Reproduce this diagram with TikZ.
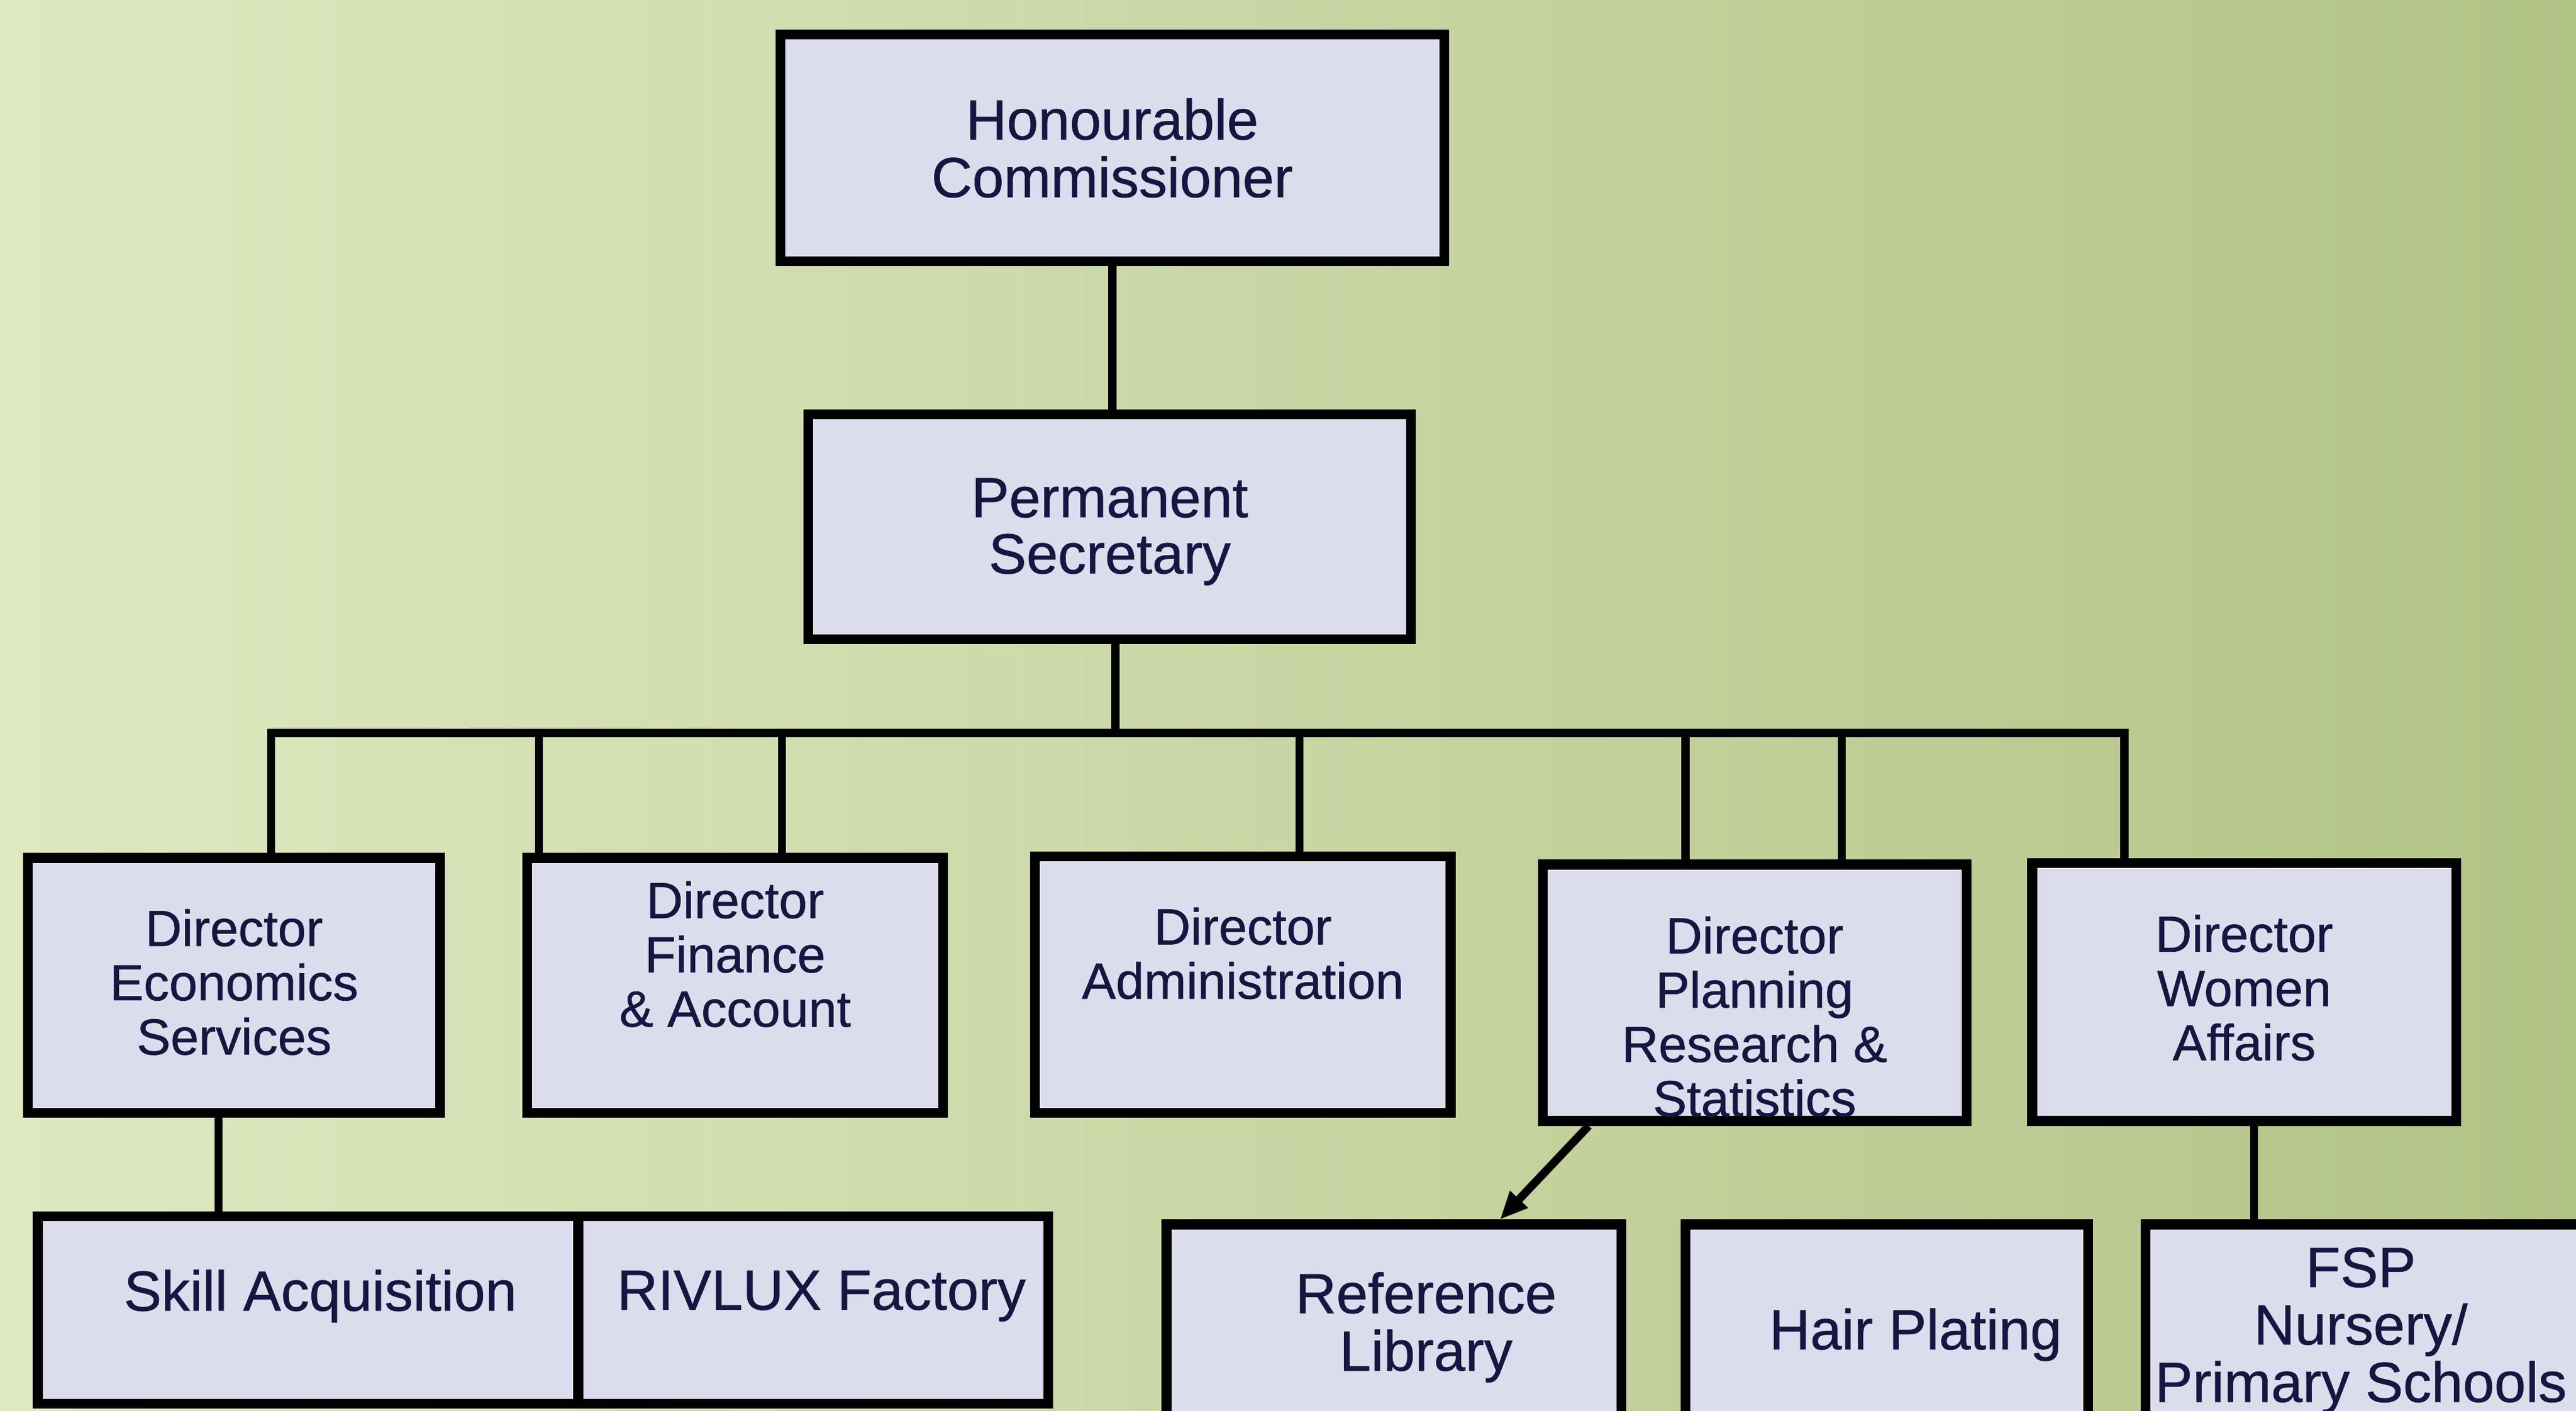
\documentclass[tikz,border=0pt]{standalone}
\usepackage{fontspec}
\setmainfont{Liberation Sans}[FakeBold=0.7]
\usetikzlibrary{arrows.meta}
\newlength\px
\setlength\px{0.02cm}
\definecolor{paperleft}{RGB}{222,233,192}
\definecolor{papermid}{RGB}{203,216,158}
\definecolor{paperright}{RGB}{178,195,134}
\definecolor{boxfill}{RGB}{220,221,236}
\definecolor{inknavy}{RGB}{22,22,66}
\newcommand\headfont{\fontsize{19.6pt}{19.3pt}\selectfont}
\newcommand\dirfont{\fontsize{17.6pt}{18.8pt}\selectfont}
\newcommand\unitfont{\fontsize{19.6pt}{19pt}\selectfont}
% text block, raised by #2 and pushed sideways by half of #1 (in px)
\newcommand\boxtext[3][0]{\raisebox{#2\px}[\height][\depth]{\begin{tabular}{@{\hspace{#1\px}}c@{}}#3\end{tabular}}}
\tikzset{
    % Boxes
    orgbox/.style={draw=black,fill=boxfill,line width=6*\px,inner sep=0pt,text=inknavy},
    boxsize/.style 2 args={minimum width=#1*\px,minimum height=#2*\px},
    head/.style={orgbox,font=\headfont},
    director/.style={orgbox,font=\dirfont},
    unit/.style={orgbox,font=\unitfont},
    %
    % Lines
    link/.style={line width=5*\px},
    arrow tip/.tip={Triangle[length=0.34cm,width=0.28cm]},
    arr/.style={link,-{arrow tip}}
}

\begin{document}
\begin{tikzpicture}[x=0.02cm,y=-0.02cm]
    \useasboundingbox (0,0) rectangle (1568,858.5);
    \clip (0,0) rectangle (1568,858.5);
    \shade[left color=paperleft,middle color=papermid,right color=paperright] (0,0) rectangle (1568,858.5);
    %
    % Top of the chart
    \node[head,boxsize={404}{138}] (hc) at (677,90) {\boxtext{-5}{Honourable\\Commissioner}};
    \node[head,boxsize={367}{137}] (ps) at (675.5,320.5) {\boxtext{-4.5}{Permanent\\Secretary}};
    %
    % Directors
    \node[director,boxsize={251}{155}] (des) at (142.5,599.5) {\boxtext{-2.5}{Director\\Economics\\Services}};
    \node[director,boxsize={253}{155}] (dfa) at (447.5,599.5) {\boxtext{14.5}{Director\\Finance\\\& Account}};
    \node[director,boxsize={253}{156}] (da) at (756.5,599) {\boxtext{14.5}{Director\\Administration}};
    \node[director,boxsize={258}{156}] (dprs) at (1068,604) {\boxtext{-19}{Director\\Planning\\Research \&\\Statistics}};
    \node[director,boxsize={258}{157}] (dwa) at (1366,603.5) {\boxtext{-2}{Director\\Women\\Affairs}};
    %
    % Units
    \node[unit,boxsize={329}{114}] (skill) at (187.5,797) {\boxtext[15]{7}{Skill Acquisition}};
    \node[unit,boxsize={286}{114}] (rivlux) at (495,797) {\boxtext[10]{7}{RIVLUX Factory}};
    \node[unit,boxsize={277}{155}] (ref) at (848.5,822.5) {\boxtext[39]{13.5}{Reference\\Library}};
    \node[unit,boxsize={245}{155}] (hair) at (1148.5,822.5) {\boxtext[35]{9}{Hair Plating}};
    \node[unit,boxsize={294}{155}] (fsp) at (1453,822.5) {\boxtext[-32]{11.5}{FSP\\Nursery/\\Primary Schools}};
    %
    % Connectors
    \draw[link] (hc.south) -- (hc.south |- ps.north);
    \draw[link] (679,0 |- ps.south) -- (679,446);
    \draw[link] (165,0 |- des.north) |- (1293,446) -- (1293,0 |- dwa.north);
    \foreach \x/\b in {328/dfa,476/dfa,791/da,1026/dprs,1121/dprs}
        \draw[link] (\x,446) -- (\x,0 |- \b.north);
    \draw[link] (133,0 |- des.south) -- (133,0 |- skill.north);
    \draw[link] (1372,0 |- dwa.south) -- (1372,0 |- fsp.north);
    \draw[arr] (967,0 |- dprs.south) -- (913,0 |- ref.north);
\end{tikzpicture}
\end{document}
